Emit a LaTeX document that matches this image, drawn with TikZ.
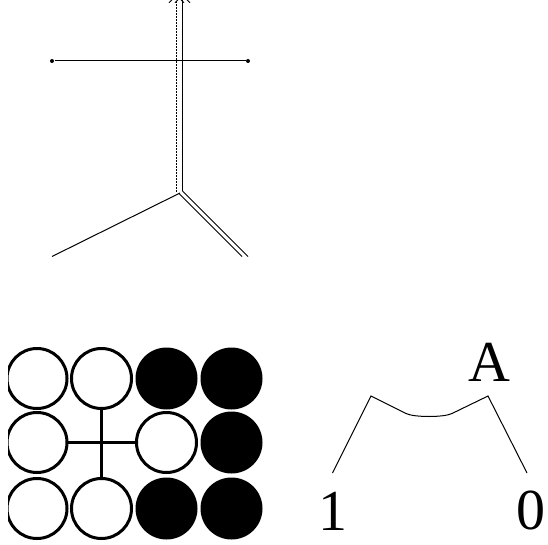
\documentclass[tikz,border=0pt]{standalone}
\usepackage{fontspec}
\setmainfont{Liberation Serif}
\usetikzlibrary{arrows.meta, positioning}
\tikzset{
  every picture/.style={line width=1pt},
  disc/.style={circle, draw=black, line width=3pt, fill=#1, minimum size=60pt, inner sep=0pt, outer sep=0pt},
  disc/.default=white,
  blackdisc/.style={circle, fill=black, minimum size=62pt, inner sep=0pt, outer sep=0pt},
  dotend/.style={circle, fill=black, minimum size=4pt, inner sep=0pt},
  bigtext/.style={font=\fontsize{58}{58}\selectfont, inner sep=0pt},
  wire/.style={line width=3pt},
  headarrow/.style={-{Straight Barb[length=7pt, width=15pt, line width=0.9pt]}},
}
\begin{document}
\begin{tikzpicture}[x=1pt, y=-1pt, node distance=4.5pt and 4.5pt]
  \useasboundingbox (0,0) rectangle (548,545);
  % upper figure
  \begin{scope}
    \clip (0,0) rectangle (548,545);
    \coordinate (topl) at (176.5,-5);
    \coordinate (topr) at (182.5,-5);
    \coordinate (footl) at (176.5,192);
    \coordinate (footr) at (182.5,191);
    \draw[headarrow, line width=1pt, dash pattern=on 2pt off 1pt] (footl) -- (topl);
    \draw[headarrow, line width=1.8pt] (footr) -- (topr);
  \end{scope}
  \node[dotend] (barl) at (52,61) {};
  \node[dotend] (barr) at (248,61) {};
  \draw (barl) -- (barr);
  \coordinate (legl) at (52,256.5);
  \coordinate (legra) at (242,256.5);
  \coordinate (legrb) at (248,256.5);
  \coordinate (kneel) at (180,193);
  \coordinate (kneea) at (179,193.5);
  \coordinate (kneeb) at (182.5,191);
  \draw (legl) -- (kneel);
  \draw (kneea) -- (legra);
  \draw (kneeb) -- (legrb);
  % grid of discs
  \begin{scope}
    \clip (8,340) rectangle (280,545);
    \node[disc] (a1) at (37,378.5) {};
    \node[disc, right=of a1] (a2) {};
    \node[disc] (b1) at (37,442.5) {};
    \node[disc] (c1) at (37,508.5) {};
    \node[disc, right=of c1] (c2) {};
    \node[disc] (b3) at (166.5,442.5) {};
    \node[blackdisc] (a3) at (166.5,378.5) {};
    \node[blackdisc] (a4) at (231.5,378.5) {};
    \node[blackdisc] (b4) at (231.5,442.5) {};
    \node[blackdisc] (c3) at (166.5,508.5) {};
    \node[blackdisc] (c4) at (231.5,508.5) {};
    \draw[wire] (b1) -- (b3);
    \draw[wire] (a2) -- (c2);
  \end{scope}
  % right figure
  \node[bigtext] (lblA) at (489.5,362) {A};
  \node[bigtext] (lblone) at (332.5,511.5) {1};
  \node[bigtext] (lblzero) at (530.5,510) {0};
  \coordinate (startp) at (332.5,473);
  \coordinate (peakl) at (371,396);
  \coordinate (peakr) at (488,396);
  \coordinate (endp) at (527,473);
  \draw (startp) -- (peakl) -- (406,413.5) .. controls (414,417.5) and (444,417.5) .. (452,413.5) -- (peakr) -- (endp);
\end{tikzpicture}
\end{document}
